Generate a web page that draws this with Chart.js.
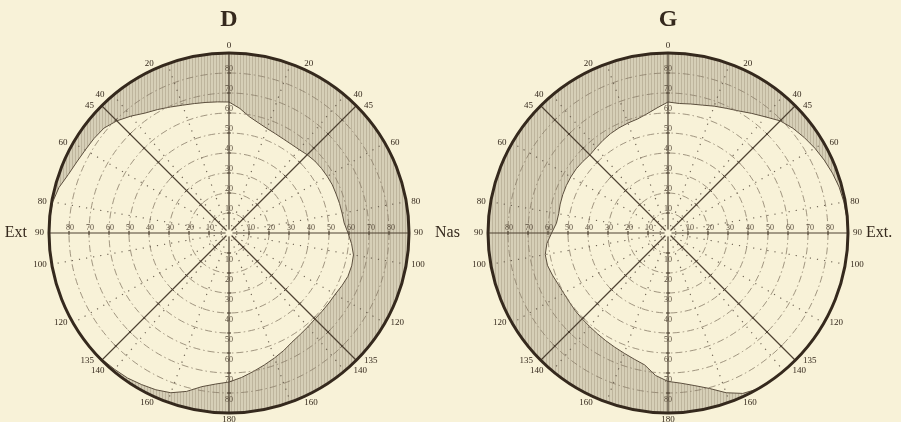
<!DOCTYPE html>
<html>
<head>
<meta charset="UTF-8" />
<title>Champ visuel D / G</title>
<script src="https://cdn.jsdelivr.net/npm/chart.js"></script>
<style>
  html, body { margin: 0; padding: 0; background: #f8f2d8; overflow: hidden; }
  .eye { position: absolute; top: 0; }
  #eyeD { left: 0; }
  #eyeG { left: 450px; }
</style>
</head>
<body>
<div class="eye" id="eyeD"><canvas id="chartD" width="480" height="422"></canvas></div>
<div class="eye" id="eyeG"><canvas id="chartG" width="451" height="422"></canvas></div>
<script>
// meridians (degrees, clockwise from the top), one category every 5 deg
var meridians = [
  0, 5, 10, 15, 20, 25, 30, 35, 40, 45, 50, 55, 60, 65, 70, 75, 80, 85,
  90, 95, 100, 105, 110, 115, 120, 125, 130, 135, 140, 145, 150, 155, 160, 165, 170, 175,
  180, 185, 190, 195, 200, 205, 210, 215, 220, 225, 230, 235, 240, 245, 250, 255, 260, 265,
  270, 275, 280, 285, 290, 295, 300, 305, 310, 315, 320, 325, 330, 335, 340, 345, 350, 355
];

// numbers written round the rim (each side counts from the top)
var meridianLabels = [0, 20, 40, 45, 60, 80, 90, 100, 120, 135, 140, 160, 180];
// eccentricity rings, labelled along the axes
var ringValues = [10, 20, 30, 40, 50, 60, 70, 80];
var solidMeridians = [0, 45, 90, 135, 180, 225, 270, 315];
var dottedMeridians = [20, 40, 60, 80, 100, 120, 140, 160, 200, 220, 240, 260, 280, 300, 320, 340];

// limit of the field (degrees) on each meridian - D (right eye)
var fieldD = [
  65.5, 62.5, 59, 57, 55.6, 54.8, 54.3, 54.2, 54.5, 55.3,
  56, 56.4, 56.7, 57, 57, 57.2, 57.4, 57.8, 59.5, 61.5,
  63.2, 63.5, 63.3, 62.3, 61.3, 61, 60.8, 60.8, 61.3, 62,
  63, 64.8, 66.5, 68.3, 70.3, 72.5, 74.5, 75.8, 78, 82,
  85, 86.5, 87.5, 88.5, 89, 89.5, 90, 90, 90, 90,
  90, 90, 90, 90, 90, 90, 89.5, 88, 85.5, 84,
  83, 82.4, 81.6, 79.3, 76.3, 73.2, 71.3, 69.5, 68, 67,
  66.3, 65.8
];

// G (left eye)
var fieldG = [
  65.5, 65, 65.5, 66.2, 67.5, 68.8, 70.5, 73, 75.8, 79.3,
  81.5, 83.2, 84.8, 86.2, 87.5, 88.6, 89.3, 89.7, 90, 90,
  90, 90, 90, 90, 90, 90, 90, 90, 90, 90,
  90, 88.5, 85, 80.5, 77.5, 75.4, 74.2, 71.5, 67, 65.3,
  64, 63, 62.2, 61.5, 61, 60.7, 60.5, 60.2, 60.2, 60.6,
  61.5, 62.4, 62.3, 60.8, 58.2, 56, 55.5, 55.8, 56, 56.1,
  56.1, 56, 55.6, 55.2, 55.8, 56.6, 57.4, 58, 58.5, 59,
  60.5, 62.8
];

var serif = "'Liberation Serif', 'DejaVu Serif', serif";
var ink = '#35291d';
var paper = '#f8f2d8';

Chart.defaults.font.family = serif;

function makeHatch(ctx) {
  var c = document.createElement('canvas');
  c.width = 3;
  c.height = 8;
  var g = c.getContext('2d');
  g.fillStyle = 'rgb(214,207,183)';
  g.fillRect(0, 0, 3, 8);
  g.fillStyle = 'rgba(145,133,108,0.35)';
  g.fillRect(0, 0, 1, 8);
  return ctx.createPattern(c, 'repeat');
}

var perimeterPlugin = {
  id: 'perimeter',
  afterDraw: function (chart) {
    var r = chart.scales.r;
    var ctx = chart.ctx;
    var cx = r.xCenter, cy = r.yCenter, R = r.drawingArea;
    var words = chart.options.plugins.perimeter;
    ctx.save();

    // small gap at the fixation point
    ctx.beginPath();
    ctx.arc(cx, cy, 3.5, 0, Math.PI * 2);
    ctx.fillStyle = paper;
    ctx.fill();

    // rim
    ctx.beginPath();
    ctx.arc(cx, cy, R, 0, Math.PI * 2);
    ctx.lineWidth = 3;
    ctx.strokeStyle = ink;
    ctx.stroke();

    // little ticks on the solid diameters
    ctx.strokeStyle = '#4e4233';
    ctx.lineWidth = 1;
    solidMeridians.forEach(function (m) {
      var idx = meridians.indexOf(m);
      ringValues.forEach(function (v) {
        var p = r.getPointPositionForValue(idx, v);
        var nx = -Math.sin(p.angle), ny = Math.cos(p.angle);
        ctx.beginPath();
        ctx.moveTo(p.x - nx * 2, p.y - ny * 2);
        ctx.lineTo(p.x + nx * 2, p.y + ny * 2);
        ctx.stroke();
      });
    });

    // degree values along the axes
    ctx.fillStyle = '#5a4e3e';
    ctx.font = '8px ' + serif;
    ctx.textAlign = 'center';
    ringValues.forEach(function (v) {
      var up = r.getPointPositionForValue(meridians.indexOf(0), v);
      var right = r.getPointPositionForValue(meridians.indexOf(90), v);
      var down = r.getPointPositionForValue(meridians.indexOf(180), v);
      var left = r.getPointPositionForValue(meridians.indexOf(270), v);
      ctx.textBaseline = 'bottom';
      ctx.fillText(String(v), up.x, up.y - 0.5);
      ctx.fillText(String(v), right.x + 2, right.y - 1);
      ctx.fillText(String(v), left.x + 1, left.y - 1);
      ctx.textBaseline = 'top';
      ctx.fillText(String(v), down.x, down.y + 3);
    });

    // numbers round the rim
    ctx.fillStyle = ink;
    ctx.font = '9px ' + serif;
    meridianLabels.forEach(function (m) {
      var sides = (m === 0 || m === 180) ? [m] : [m, 360 - m];
      sides.forEach(function (a) {
        var p = r.getPointPositionForValue(meridians.indexOf(a), 90);
        if (a === 0) {
          ctx.textAlign = 'center';
          ctx.textBaseline = 'bottom';
          ctx.fillText(String(m), p.x, p.y - 3);
          return;
        }
        if (a === 180) {
          ctx.textAlign = 'center';
          ctx.textBaseline = 'top';
          ctx.fillText(String(m), p.x, p.y + 2);
          return;
        }
        var c = Math.cos(m * Math.PI / 180);
        var h = 5 + 11 * Math.pow(c, 4);
        ctx.textBaseline = 'middle';
        if (a < 180) {
          ctx.textAlign = 'left';
          ctx.fillText(String(m), p.x + h, p.y);
        } else {
          ctx.textAlign = 'right';
          ctx.fillText(String(m), p.x - h, p.y);
        }
      });
    });

    // side words
    ctx.font = '16px ' + serif;
    ctx.textBaseline = 'middle';
    if (words.left) {
      ctx.textAlign = 'right';
      ctx.fillText(words.left, cx - R - 22, cy);
    }
    if (words.right) {
      ctx.textAlign = 'left';
      ctx.fillText(words.right, cx + R + words.rightGap, cy);
    }
    ctx.restore();
  }
};

function makeChart(id, title, field, padding, words) {
  var ctx = document.getElementById(id).getContext('2d');
  return new Chart(ctx, {
    type: 'radar',
    data: {
      labels: meridians,
      datasets: [{
        label: title,
        data: field,
        fill: 'end',
        backgroundColor: makeHatch(ctx),
        borderColor: '#5b4e3d',
        borderWidth: 1,
        pointRadius: 0,
        tension: 0
      }]
    },
    options: {
      responsive: false,
      animation: false,
      layout: { padding: padding },
      scales: {
        r: {
          min: 0,
          max: 90,
          startAngle: 0,
          ticks: { display: false, stepSize: 10 },
          pointLabels: { display: false },
          grid: {
            circular: true,
            z: 1,
            color: function (c) {
              return c.tick && c.tick.value >= 90 ? 'rgba(0,0,0,0)' : '#8a7e69';
            },
            lineWidth: 0.8
          },
          border: { dash: [7, 3, 1.5, 3] },
          angleLines: {
            color: function (c) {
              var m = meridians[c.index];
              return solidMeridians.indexOf(m) >= 0 ? '#4e4233' : '#6f6454';
            },
            lineWidth: function (c) {
              var m = meridians[c.index];
              if (solidMeridians.indexOf(m) >= 0) return 1.2;
              if (dottedMeridians.indexOf(m) >= 0) return 1.2;
              return 0;
            },
            borderDash: function (c) {
              var m = meridians[c.index];
              return solidMeridians.indexOf(m) >= 0 ? [] : [1.2, 6];
            }
          }
        }
      },
      plugins: {
        legend: { display: false },
        tooltip: { enabled: false },
        title: {
          display: true,
          text: title,
          color: ink,
          font: { family: serif, size: 24, weight: 'bold', lineHeight: 1 },
          padding: { top: 8, bottom: 21 }
        },
        perimeter: words
      }
    },
    plugins: [perimeterPlugin]
  });
}

makeChart('chartD', 'D', fieldD,
  { left: 49, right: 71, top: 0, bottom: 9 },
  { left: 'Ext', right: 'Nas', rightGap: 26 });

makeChart('chartG', 'G', fieldG,
  { left: 38, right: 53, top: 0, bottom: 9 },
  { left: '', right: 'Ext.', rightGap: 18 });
</script>
</body>
</html>
